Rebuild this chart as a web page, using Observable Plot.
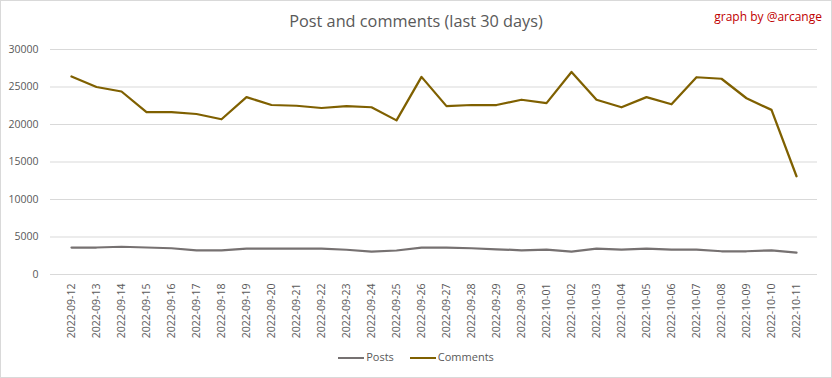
<!DOCTYPE html>
<html><head><meta charset="utf-8">
<script src="https://cdn.jsdelivr.net/npm/d3@7"></script>
<script src="https://cdn.jsdelivr.net/npm/@observablehq/plot@0.6"></script>
<style>
html,body{margin:0;padding:0;background:#fff;}
#chart{position:relative;width:832px;height:378px;background:#fff;overflow:hidden;font-family:"Open Sans",sans-serif;color:#595959;}
#frame{position:absolute;left:0;top:0;width:832px;height:378px;box-sizing:border-box;border:1px solid #d9d9d9;pointer-events:none;}
#plot{position:absolute;left:0;top:0;}
#title{position:absolute;left:0;width:832px;top:10px;text-align:center;font-size:16.3px;color:#595959;}
#credit{position:absolute;right:10px;top:8px;font-size:12px;color:#c00000;}
#legend{position:absolute;left:0;width:832px;top:349px;text-align:center;font-size:11px;color:#595959;}
#legend span.item{display:inline-block;margin:0 8px;}
#legend span.sw{display:inline-block;width:26px;height:2.5px;vertical-align:middle;margin-right:2px;}
</style>
</head><body>
<div id="chart">
  <div id="plot"></div>
  <div id="title">Post and comments (last 30 days)</div>
  <div id="credit">graph by @arcange</div>
  <div id="legend"></div>
  <div id="frame"></div>
</div>
<script>
const dates = ["2022-09-12","2022-09-13","2022-09-14","2022-09-15","2022-09-16","2022-09-17","2022-09-18","2022-09-19","2022-09-20","2022-09-21","2022-09-22","2022-09-23","2022-09-24","2022-09-25","2022-09-26","2022-09-27","2022-09-28","2022-09-29","2022-09-30","2022-10-01","2022-10-02","2022-10-03","2022-10-04","2022-10-05","2022-10-06","2022-10-07","2022-10-08","2022-10-09","2022-10-10","2022-10-11"];
const posts = [3600,3600,3700,3600,3500,3230,3230,3450,3450,3450,3450,3300,3050,3200,3580,3580,3500,3360,3230,3320,3050,3450,3320,3450,3320,3320,3100,3100,3230,2920];
const comments = [26400,25000,24400,21650,21650,21400,20700,23650,22600,22500,22200,22450,22300,20550,26350,22450,22600,22600,23300,22850,27000,23300,22300,23650,22700,26300,26100,23500,21950,13100];
const seriesNames = ["Posts","Comments"];
const seriesColors = ["#767171","#7f6000"];
const yTicks = [0,5000,10000,15000,20000,25000,30000];

const data = [];
dates.forEach((d,i)=>{
  data.push({date:d, series:"Posts", value:posts[i]});
  data.push({date:d, series:"Comments", value:comments[i]});
});

const chart = Plot.plot({
  width:832, height:378,
  marginTop:49, marginBottom:104, marginLeft:50, marginRight:15,
  x:{type:"point", domain:dates, padding:0.5},
  y:{domain:[0,30000]},
  color:{domain:seriesNames, range:seriesColors},
  style:{fontFamily:'"Open Sans",sans-serif', fontSize:"10.5px", color:"#595959", background:"transparent", overflow:"visible"},
  marks:[
    Plot.ruleY(yTicks,{stroke:"#d9d9d9", strokeOpacity:1, strokeWidth:1}),
    Plot.axisY({ticks:yTicks, tickSize:0, tickPadding:12, label:null, fill:"#595959", tickFormat:d=>String(d)}),
    Plot.axisX({tickSize:0, tickPadding:9, tickRotate:-90, label:null, fill:"#595959"}),
    Plot.line(data,{x:"date", y:"value", stroke:"series", z:"series", strokeWidth:2.25, strokeLinejoin:"round"})
  ]
});
document.getElementById("plot").appendChild(chart);

const legend = document.getElementById("legend");
seriesNames.forEach((name,i)=>{
  const item = document.createElement("span");
  item.className = "item";
  const sw = document.createElement("span");
  sw.className = "sw";
  sw.style.background = seriesColors[i];
  item.appendChild(sw);
  item.appendChild(document.createTextNode(name));
  legend.appendChild(item);
});
</script>
</body></html>
